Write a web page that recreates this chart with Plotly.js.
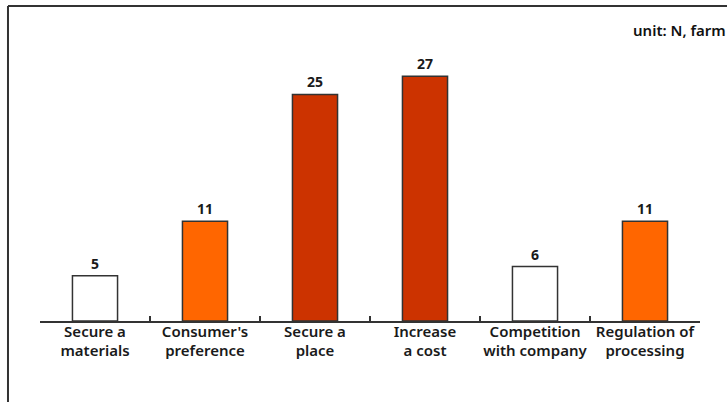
<!DOCTYPE html>
<html>
<head>
<meta charset="utf-8">
<script src="https://cdn.plot.ly/plotly-3.0.1.min.js"></script>
<style>html,body{margin:0;padding:0;background:#fff;}#chart{width:727px;height:402px;}</style>
</head>
<body>
<div id="chart"></div>
<script>
const categories = ["Secure a<br>materials", "Consumer's<br>preference", "Secure a<br>place", "Increase<br>a cost", "Competition<br>with company", "Regulation of<br>processing"];
const values = [5, 11, 25, 27, 6, 11];
const barColors = ["#ffffff", "#ff6600", "#cc3300", "#cc3300", "#ffffff", "#ff6600"];
const unitLabel = "unit: N, farm";

const trace = {
  type: "bar",
  x: categories,
  y: values,
  width: 0.41,
  marker: {color: barColors, line: {color: "#333333", width: 1.5}},
  text: values.map(String),
  textposition: "outside",
  cliponaxis: false,
  textfont: {family: "Noto Sans", size: 14, color: "#1a1a1a", weight: "bold"},
  hoverinfo: "skip"
};

const boundaryTrace = {
  type: "scatter",
  x: [0.5, 4.5],
  y: [0, 0],
  xaxis: "x2",
  yaxis: "y",
  mode: "markers",
  marker: {opacity: 0},
  hoverinfo: "skip",
  showlegend: false
};

const layout = {
  width: 727, height: 402,
  margin: {l: 40, r: 27, t: 40, b: 81},
  paper_bgcolor: "#ffffff",
  plot_bgcolor: "#ffffff",
  showlegend: false,
  xaxis: {
    type: "category",
    showline: true, linecolor: "#333333", linewidth: 1.5,
    ticks: "", showgrid: false, zeroline: false,
    tickfont: {family: "Noto Sans", size: 15, color: "#1a1a1a", weight: 600},
    ticklabelstandoff: -4,
    fixedrange: true
  },
  xaxis2: {
    overlaying: "x", anchor: "y", side: "bottom",
    range: [-0.5, 5.5],
    tickvals: [0.5, 1.5, 2.5, 3.5, 4.5],
    ticks: "inside", ticklen: 5, tickcolor: "#333333", tickwidth: 1.2,
    showticklabels: false, showgrid: false, showline: false, zeroline: false
  },
  yaxis: {
    range: [0, 31], visible: false, showgrid: false, zeroline: false, fixedrange: true
  },
  annotations: [{
    text: unitLabel, xref: "paper", yref: "paper",
    x: 0.8955, y: 1.0356, xanchor: "left", yanchor: "middle",
    showarrow: false, font: {family: "Noto Sans", size: 15, color: "#111111", weight: 600}
  }],
  shapes: [
    {type: "line", xref: "paper", yref: "paper", x0: -0.0485, x1: 1.1, y0: 1.121, y1: 1.121, line: {color: "#333333", width: 2}},
    {type: "line", xref: "paper", yref: "paper", x0: -0.0485, x1: -0.0485, y0: 1.121, y1: -0.3, line: {color: "#333333", width: 2}}
  ]
};

Plotly.newPlot("chart", [trace, boundaryTrace], layout, {displayModeBar: false, staticPlot: true});
</script>
</body>
</html>
